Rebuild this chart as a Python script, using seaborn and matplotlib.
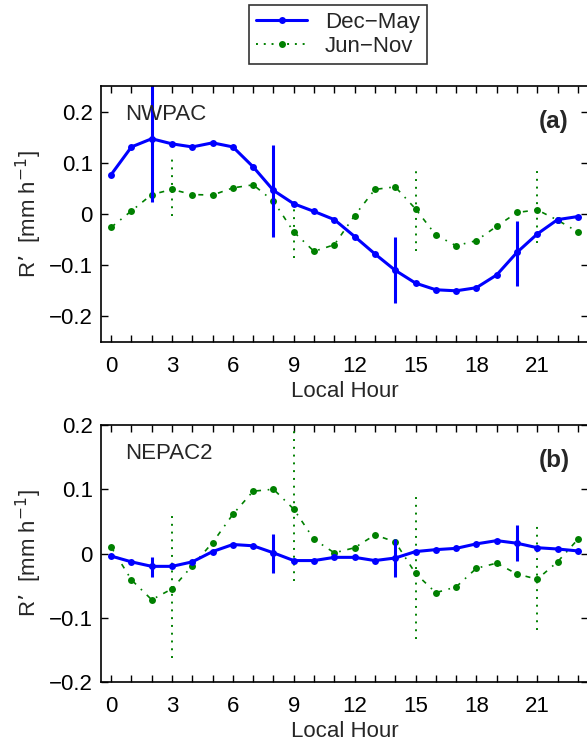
import matplotlib
matplotlib.use("Agg")
import matplotlib.pyplot as plt
import seaborn as sns
import numpy as np
from matplotlib.lines import Line2D

# local hour
hours = list(range(24))

# (a) NWPAC
nwpac_dm = [0.077, 0.131, 0.147, 0.137, 0.131, 0.139, 0.131, 0.092, 0.046, 0.020, 0.005, -0.011,
            -0.044, -0.078, -0.110, -0.135, -0.148, -0.150, -0.144, -0.119, -0.075, -0.039, -0.011, -0.005]
nwpac_jn = [-0.026, 0.006, 0.038, 0.048, 0.038, 0.037, 0.051, 0.057, 0.025, -0.035, -0.073, -0.060,
            -0.003, 0.048, 0.053, 0.010, -0.041, -0.062, -0.052, -0.024, 0.003, 0.008, -0.012, -0.035]
nwpac_dm_err_x = [2, 8, 14, 20]
nwpac_dm_err_lo = [0.023, -0.044, -0.173, -0.141]
nwpac_dm_err_hi = [0.27, 0.135, -0.045, -0.013]
nwpac_jn_err_x = [3, 9, 15, 21]
nwpac_jn_err_lo = [-0.003, -0.085, -0.072, -0.056]
nwpac_jn_err_hi = [0.111, 0.033, 0.090, 0.084]

# (b) NEPAC2
nepac_dm = [-0.004, -0.013, -0.020, -0.020, -0.013, 0.003, 0.014, 0.012, 0.001, -0.011, -0.011, -0.006,
            -0.006, -0.011, -0.007, 0.003, 0.006, 0.008, 0.015, 0.020, 0.016, 0.009, 0.007, 0.004]
nepac_jn = [0.010, -0.041, -0.072, -0.055, -0.019, 0.017, 0.061, 0.097, 0.100, 0.069, 0.022, 0.001,
            0.009, 0.029, 0.018, -0.031, -0.061, -0.052, -0.023, -0.015, -0.032, -0.040, -0.013, 0.022]
nepac_dm_err_x = [2, 8, 14, 20]
nepac_dm_err_lo = [-0.036, -0.031, -0.037, -0.011]
nepac_dm_err_hi = [-0.006, 0.031, 0.022, 0.044]
nepac_jn_err_x = [3, 9, 15, 21]
nepac_jn_err_lo = [-0.162, -0.043, -0.133, -0.119]
nepac_jn_err_hi = [0.059, 0.21, 0.088, 0.047]

sns.set_style("ticks")
plt.rcParams['font.family'] = ['Liberation Sans', 'DejaVu Sans']
plt.rcParams['font.size'] = 16

blue = (0, 0, 1)
green = (0, 0.5, 0)
dashdot = (0, (3, 4, 1, 4))
dotted = (0, (1, 3))

fig = plt.figure(figsize=(5.87, 7.42), dpi=100)
ax1 = fig.add_axes([101 / 587, 1 - 342 / 742, 487 / 587, 256 / 742])
ax2 = fig.add_axes([101 / 587, 1 - 682 / 742, 487 / 587, 257 / 742])

panels = [
    (ax1, nwpac_dm, nwpac_jn, nwpac_dm_err_x, nwpac_dm_err_lo, nwpac_dm_err_hi,
     nwpac_jn_err_x, nwpac_jn_err_lo, nwpac_jn_err_hi, (-0.25, 0.25), "NWPAC", "(a)"),
    (ax2, nepac_dm, nepac_jn, nepac_dm_err_x, nepac_dm_err_lo, nepac_dm_err_hi,
     nepac_jn_err_x, nepac_jn_err_lo, nepac_jn_err_hi, (-0.2, 0.2), "NEPAC2", "(b)"),
]

for ax, dm, jn, dx, dlo, dhi, jx, jlo, jhi, ylim, name, tag in panels:
    sns.lineplot(x=hours, y=jn, ax=ax, color=green, linestyle=dashdot, linewidth=1.2,
                 marker='o', markersize=5, markeredgewidth=0)
    ax.vlines(jx, jlo, jhi, colors=[green], linestyles=[dotted], linewidth=1.4)
    sns.lineplot(x=hours, y=dm, ax=ax, color=blue, linewidth=2.2,
                 marker='o', markersize=5, markeredgewidth=0)
    ax.vlines(dx, dlo, dhi, colors=[blue], linewidth=2.2)

    ax.set_xlim(-0.5, 23.5)
    ax.set_ylim(*ylim)
    ax.set_xticks(hours)
    ax.set_xticklabels([str(h) if h % 3 == 0 else "" for h in hours])
    ax.set_yticks([-0.2, -0.1, 0, 0.1, 0.2])
    ax.set_yticklabels(["\u22120.2", "\u22120.1", "0", "0.1", "0.2"])
    ax.tick_params(direction='in', top=True, right=True, length=5, width=1,
                   labelsize=16, colors='black')
    ax.tick_params(axis='x', pad=10)
    ax.tick_params(axis='y', pad=6)
    for s in ax.spines.values():
        s.set_linewidth(1.2)
        s.set_color('black')
    ax.set_xlabel("Local Hour", fontsize=16, labelpad=3)
    ax.set_ylabel("R\u2019  [mm h$^{-1}$]", fontsize=16, labelpad=3)
    ax.text(0.049, 0.89, name, transform=ax.transAxes, fontsize=16, va='center')
    ax.text(0.93, 0.86, tag, transform=ax.transAxes, fontsize=17.5, fontweight='bold',
            ha='center', va='center')

handles = [
    Line2D([], [], color=blue, linewidth=2.2, marker='o', markersize=5, markeredgewidth=0),
    Line2D([], [], color=green, linestyle=dotted, linewidth=1.4, marker='o', markersize=5,
           markeredgewidth=0),
]
leg = fig.legend(handles, ["Dec\u2212May", "Jun\u2212Nov"], loc='upper center',
                 bbox_to_anchor=(338 / 587, 1 - 5 / 742), fontsize=16, frameon=True,
                 fancybox=False, handlelength=2.3, borderpad=0.3, labelspacing=0.15,
                 handletextpad=0.8, borderaxespad=0)
leg.get_frame().set_edgecolor('black')
leg.get_frame().set_linewidth(1.2)

fig.savefig("out.png", dpi=100)
